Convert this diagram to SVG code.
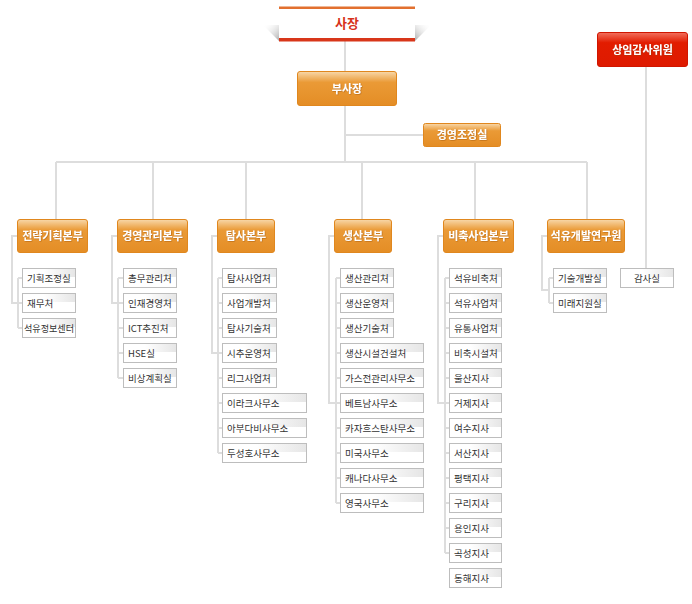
<svg xmlns="http://www.w3.org/2000/svg" width="692" height="604" viewBox="0 0 692 604">
<defs>
<linearGradient id="og" x1="0" y1="0" x2="0" y2="1">
<stop offset="0" stop-color="#F8D8AA"/>
<stop offset="0.32" stop-color="#EA9A36"/>
<stop offset="1" stop-color="#E48D25"/>
</linearGradient>
<linearGradient id="rg" x1="0" y1="0" x2="0" y2="1">
<stop offset="0" stop-color="#F2705E"/>
<stop offset="0.3" stop-color="#E21C00"/>
<stop offset="1" stop-color="#DE1A00"/>
</linearGradient>
<linearGradient id="ig" x1="0" y1="0" x2="1" y2="0">
<stop offset="0" stop-color="#FFFFFF"/>
<stop offset="0.4" stop-color="#FFFFFF"/>
<stop offset="1" stop-color="#E6E6E6"/>
</linearGradient>
<linearGradient id="shL" x1="1" y1="1" x2="0" y2="0">
<stop offset="0" stop-color="#AAAAAA"/>
<stop offset="1" stop-color="#FFFFFF" stop-opacity="0"/>
</linearGradient>
<linearGradient id="shR" x1="0" y1="1" x2="1" y2="0">
<stop offset="0" stop-color="#AAAAAA"/>
<stop offset="1" stop-color="#FFFFFF" stop-opacity="0"/>
</linearGradient>
<filter id="ts" x="-10%" y="-30%" width="120%" height="160%">
<feDropShadow dx="0.6" dy="0.6" stdDeviation="0.4" flood-color="#8A4A00" flood-opacity="0.55"/>
</filter>
</defs>
<style>
.ln{fill:none;stroke:#DDDDDD;stroke-width:2}
.ob{fill:url(#og);stroke:#E0871E;stroke-width:1}
.rb{fill:url(#rg);stroke:#D01500;stroke-width:1}
.ot{font-family:"Noto Sans CJK KR","Noto Sans",sans-serif;font-size:11px;font-weight:bold;fill:#FFFFFF;text-anchor:middle;filter:url(#ts)}
.ib{fill:#FFFFFF;stroke:#BDBDBD;stroke-width:1}
.ih{fill:url(#ig)}
.it{font-family:"Noto Sans CJK KR","Noto Sans",sans-serif;font-size:9.5px;fill:#333333}
</style>
<rect width="692" height="604" fill="#FFFFFF"/>

<g id="connectors">
<path class="ln" d="M345 41V162M345 135H423M56 162H587M56 162V219M153 162V219M246 162V219M362 162V219M475 162V219M587 162V219"/>
<path class="ln" d="M646 67V269"/>
<path class="ln" d="M17 236H12V303H22M18 278V328M18 278H22M18 328H22"/>
<path class="ln" d="M117 236H112V303H123M118 278V378M118 278H123M118 328H123M118 353H123M118 378H123"/>
<path class="ln" d="M217 236H212V353H222M218 278V453M218 278H222M218 303H222M218 328H222M218 378H222M218 403H222M218 428H222M218 453H222"/>
<path class="ln" d="M334 236H329V403H340M336 278V503M336 278H340M336 303H340M336 328H340M336 353H340M336 378H340M336 428H340M336 453H340M336 478H340M336 503H340"/>
<path class="ln" d="M443 236H438V403H449M445 278V553M445 278H449M445 303H449M445 328H449M445 353H449M445 378H449M445 428H449M445 453H449M445 478H449M445 503H449M445 528H449M445 553H449"/>
<path class="ln" d="M547 236H542V290H549M549 278V303M549 278H553M549 303H553"/>
</g>

<g id="node-president">
<polygon points="263,25 279,25 279,41" fill="url(#shL)"/>
<polygon points="431,25 415,25 415,41" fill="url(#shR)"/>
<rect x="279" y="9" width="136" height="30" fill="#FFFFFF"/>
<rect x="279" y="6.5" width="136" height="2.5" fill="#E2702F"/>
<rect x="279" y="38" width="136" height="3.5" fill="#D8361A"/>
<text x="347" y="28" font-family="'Noto Sans CJK KR','Noto Sans',sans-serif" font-size="13px" font-weight="bold" fill="#D7321B" text-anchor="middle">사장</text>
</g>

<g id="node-vp">
<rect class="ob" x="297.5" y="71.5" width="99" height="34" rx="2.5"/>
<text class="ot" x="347" y="93">부사장</text>
</g>

<g id="node-mgmt-coord">
<rect class="ob" x="423.5" y="123.5" width="77" height="23" rx="2"/>
<text class="ot" x="462" y="139">경영조정실</text>
</g>

<g id="node-auditor">
<rect class="rb" x="597.5" y="32.5" width="90" height="34" rx="2.5"/>
<text class="ot" x="642.5" y="53.5">상임감사위원</text>
</g>

<g id="div-strategy">
<rect class="ob" x="17.5" y="219.5" width="70" height="33" rx="2.5"/>
<text class="ot" x="52.5" y="240">전략기획본부</text>
</g>
<g id="div-management">
<rect class="ob" x="117.5" y="219.5" width="70" height="33" rx="2.5"/>
<text class="ot" x="152.5" y="240">경영관리본부</text>
</g>
<g id="div-exploration">
<rect class="ob" x="217.5" y="219.5" width="57" height="33" rx="2.5"/>
<text class="ot" x="246" y="240">탐사본부</text>
</g>
<g id="div-production">
<rect class="ob" x="334.5" y="219.5" width="57" height="33" rx="2.5"/>
<text class="ot" x="363" y="240">생산본부</text>
</g>
<g id="div-stockpile">
<rect class="ob" x="443.5" y="219.5" width="70" height="33" rx="2.5"/>
<text class="ot" x="478.5" y="240">비축사업본부</text>
</g>
<g id="div-research">
<rect class="ob" x="547.5" y="219.5" width="77" height="33" rx="2.5"/>
<text class="ot" x="586" y="240">석유개발연구원</text>
</g>

<g id="items-strategy">
<rect class="ib" x="22.5" y="268.5" width="53" height="19"/><rect class="ih" x="23" y="269" width="52" height="8"/><text class="it" x="27" y="282">기획조정실</text>
<rect class="ib" x="22.5" y="293.5" width="53" height="19"/><rect class="ih" x="23" y="294" width="52" height="8"/><text class="it" x="27" y="307">재무처</text>
<rect class="ib" x="22.5" y="318.5" width="53" height="19"/><rect class="ih" x="23" y="319" width="52" height="8"/><text class="it" x="24" y="332" textLength="50" lengthAdjust="spacingAndGlyphs">석유정보센터</text>
</g>

<g id="items-management">
<rect class="ib" x="123.5" y="268.5" width="53" height="19"/><rect class="ih" x="124" y="269" width="52" height="8"/><text class="it" x="128" y="282">총무관리처</text>
<rect class="ib" x="123.5" y="293.5" width="53" height="19"/><rect class="ih" x="124" y="294" width="52" height="8"/><text class="it" x="128" y="307">인재경영처</text>
<rect class="ib" x="123.5" y="318.5" width="53" height="19"/><rect class="ih" x="124" y="319" width="52" height="8"/><text class="it" x="128" y="332">ICT추진처</text>
<rect class="ib" x="123.5" y="343.5" width="53" height="19"/><rect class="ih" x="124" y="344" width="52" height="8"/><text class="it" x="128" y="357">HSE실</text>
<rect class="ib" x="123.5" y="368.5" width="53" height="19"/><rect class="ih" x="124" y="369" width="52" height="8"/><text class="it" x="128" y="382">비상계획실</text>
</g>

<g id="items-exploration">
<rect class="ib" x="222.5" y="268.5" width="54" height="19"/><rect class="ih" x="223" y="269" width="53" height="8"/><text class="it" x="227" y="282">탐사사업처</text>
<rect class="ib" x="222.5" y="293.5" width="54" height="19"/><rect class="ih" x="223" y="294" width="53" height="8"/><text class="it" x="227" y="307">사업개발처</text>
<rect class="ib" x="222.5" y="318.5" width="54" height="19"/><rect class="ih" x="223" y="319" width="53" height="8"/><text class="it" x="227" y="332">탐사기술처</text>
<rect class="ib" x="222.5" y="343.5" width="54" height="19"/><rect class="ih" x="223" y="344" width="53" height="8"/><text class="it" x="227" y="357">시추운영처</text>
<rect class="ib" x="222.5" y="368.5" width="54" height="19"/><rect class="ih" x="223" y="369" width="53" height="8"/><text class="it" x="227" y="382">리그사업처</text>
<rect class="ib" x="222.5" y="393.5" width="84" height="19"/><rect class="ih" x="223" y="394" width="83" height="8"/><text class="it" x="227" y="407">이라크사무소</text>
<rect class="ib" x="222.5" y="418.5" width="84" height="19"/><rect class="ih" x="223" y="419" width="83" height="8"/><text class="it" x="227" y="432">아부다비사무소</text>
<rect class="ib" x="222.5" y="443.5" width="84" height="19"/><rect class="ih" x="223" y="444" width="83" height="8"/><text class="it" x="227" y="457">두성호사무소</text>
</g>

<g id="items-production">
<rect class="ib" x="340.5" y="268.5" width="53" height="19"/><rect class="ih" x="341" y="269" width="52" height="8"/><text class="it" x="345" y="282">생산관리처</text>
<rect class="ib" x="340.5" y="293.5" width="53" height="19"/><rect class="ih" x="341" y="294" width="52" height="8"/><text class="it" x="345" y="307">생산운영처</text>
<rect class="ib" x="340.5" y="318.5" width="53" height="19"/><rect class="ih" x="341" y="319" width="52" height="8"/><text class="it" x="345" y="332">생산기술처</text>
<rect class="ib" x="340.5" y="343.5" width="83" height="19"/><rect class="ih" x="341" y="344" width="82" height="8"/><text class="it" x="345" y="357">생산시설건설처</text>
<rect class="ib" x="340.5" y="368.5" width="83" height="19"/><rect class="ih" x="341" y="369" width="82" height="8"/><text class="it" x="345" y="382">가스전관리사무소</text>
<rect class="ib" x="340.5" y="393.5" width="83" height="19"/><rect class="ih" x="341" y="394" width="82" height="8"/><text class="it" x="345" y="407">베트남사무소</text>
<rect class="ib" x="340.5" y="418.5" width="83" height="19"/><rect class="ih" x="341" y="419" width="82" height="8"/><text class="it" x="345" y="432">카자흐스탄사무소</text>
<rect class="ib" x="340.5" y="443.5" width="83" height="19"/><rect class="ih" x="341" y="444" width="82" height="8"/><text class="it" x="345" y="457">미국사무소</text>
<rect class="ib" x="340.5" y="468.5" width="83" height="19"/><rect class="ih" x="341" y="469" width="82" height="8"/><text class="it" x="345" y="482">캐나다사무소</text>
<rect class="ib" x="340.5" y="493.5" width="83" height="19"/><rect class="ih" x="341" y="494" width="82" height="8"/><text class="it" x="345" y="507">영국사무소</text>
</g>

<g id="items-stockpile">
<rect class="ib" x="449.5" y="268.5" width="52" height="19"/><rect class="ih" x="450" y="269" width="51" height="8"/><text class="it" x="454" y="282">석유비축처</text>
<rect class="ib" x="449.5" y="293.5" width="52" height="19"/><rect class="ih" x="450" y="294" width="51" height="8"/><text class="it" x="454" y="307">석유사업처</text>
<rect class="ib" x="449.5" y="318.5" width="52" height="19"/><rect class="ih" x="450" y="319" width="51" height="8"/><text class="it" x="454" y="332">유통사업처</text>
<rect class="ib" x="449.5" y="343.5" width="52" height="19"/><rect class="ih" x="450" y="344" width="51" height="8"/><text class="it" x="454" y="357">비축시설처</text>
<rect class="ib" x="449.5" y="368.5" width="52" height="19"/><rect class="ih" x="450" y="369" width="51" height="8"/><text class="it" x="454" y="382">울산지사</text>
<rect class="ib" x="449.5" y="393.5" width="52" height="19"/><rect class="ih" x="450" y="394" width="51" height="8"/><text class="it" x="454" y="407">거제지사</text>
<rect class="ib" x="449.5" y="418.5" width="52" height="19"/><rect class="ih" x="450" y="419" width="51" height="8"/><text class="it" x="454" y="432">여수지사</text>
<rect class="ib" x="449.5" y="443.5" width="52" height="19"/><rect class="ih" x="450" y="444" width="51" height="8"/><text class="it" x="454" y="457">서산지사</text>
<rect class="ib" x="449.5" y="468.5" width="52" height="19"/><rect class="ih" x="450" y="469" width="51" height="8"/><text class="it" x="454" y="482">평택지사</text>
<rect class="ib" x="449.5" y="493.5" width="52" height="19"/><rect class="ih" x="450" y="494" width="51" height="8"/><text class="it" x="454" y="507">구리지사</text>
<rect class="ib" x="449.5" y="518.5" width="52" height="19"/><rect class="ih" x="450" y="519" width="51" height="8"/><text class="it" x="454" y="532">용인지사</text>
<rect class="ib" x="449.5" y="543.5" width="52" height="19"/><rect class="ih" x="450" y="544" width="51" height="8"/><text class="it" x="454" y="557">곡성지사</text>
<rect class="ib" x="449.5" y="568.5" width="52" height="19"/><rect class="ih" x="450" y="569" width="51" height="8"/><text class="it" x="454" y="582">동해지사</text>
</g>

<g id="items-research">
<rect class="ib" x="553.5" y="268.5" width="53" height="19"/><rect class="ih" x="554" y="269" width="52" height="8"/><text class="it" x="558" y="282">기술개발실</text>
<rect class="ib" x="553.5" y="293.5" width="53" height="19"/><rect class="ih" x="554" y="294" width="52" height="8"/><text class="it" x="558" y="307">미래지원실</text>
</g>

<g id="item-audit">
<rect class="ib" x="620.5" y="268.5" width="53" height="19"/><rect class="ih" x="621" y="269" width="52" height="8"/><text class="it" x="647" y="282" text-anchor="middle">감사실</text>
</g>
</svg>
